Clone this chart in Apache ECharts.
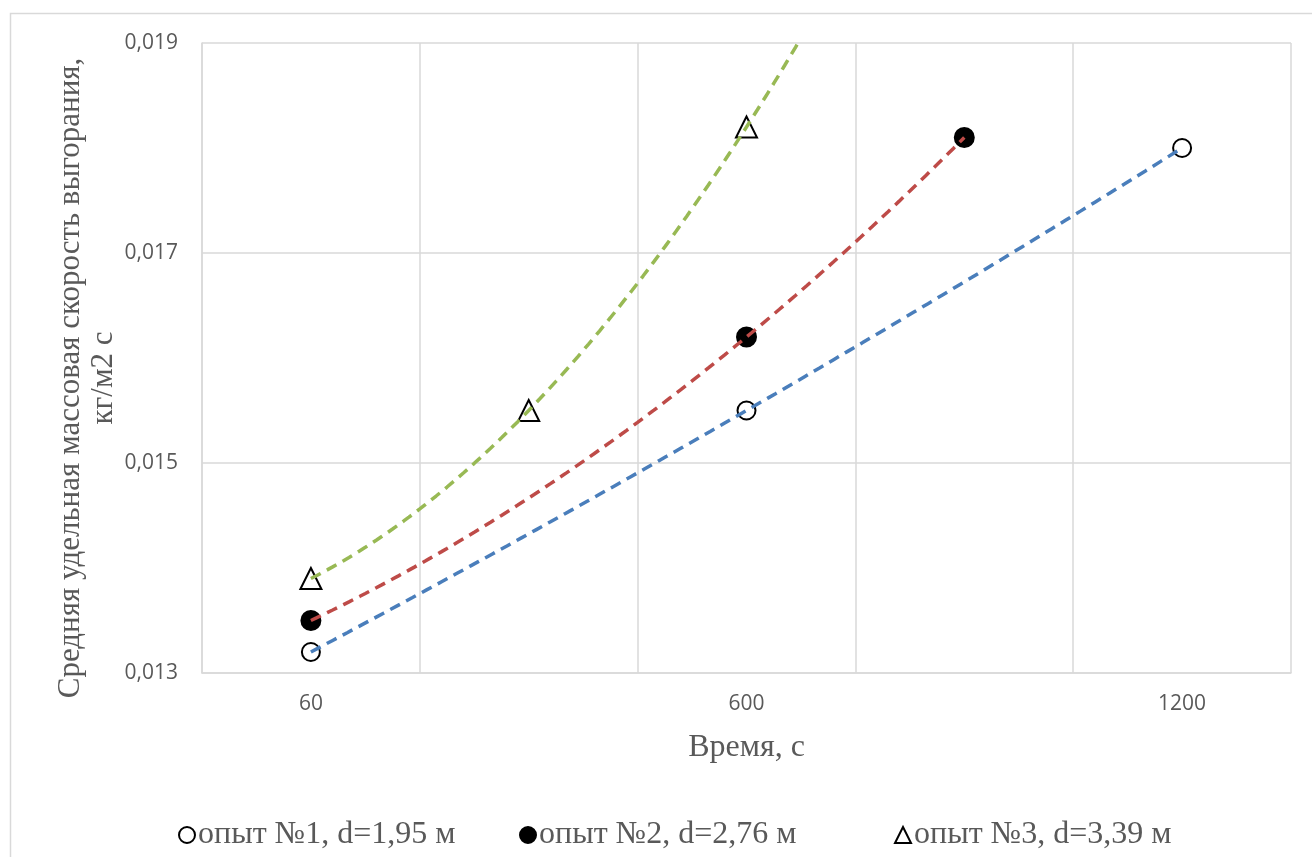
<!DOCTYPE html>
<html>
<head>
<meta charset="utf-8">
<script src="https://cdn.jsdelivr.net/npm/echarts@6/dist/echarts.min.js"></script>
<style>
  html, body { margin: 0; padding: 0; background: #fff; }
  #chart { width: 1312px; height: 857px; }
</style>
</head>
<body>
<div id="chart"></div>
<script>
// Time categories (s); only every other one carries a label
const categories = ['60', '300', '600', '900', '1200'];

// Mean specific mass burning rate, kg/(m2·s); null where no measurement
const run1 = [0.0132, null, 0.0155, null, 0.0180];
const run2 = [0.0135, null, 0.0162, 0.0181, null];
const run3 = [0.0139, 0.0155, 0.0182, null, null];

const seriesNames = ['опыт №1, d=1,95 м', 'опыт №2, d=2,76 м', 'опыт №3, d=3,39 м'];
const trendColors = ['#4a7ebb', '#be4b48', '#98b954'];
// periods the trend line is carried past the last measurement
const trendForward = [0, 0, 1];

// least-squares quadratic (order 2 polynomial trend line)
function quadFit(pts) {
  let s = [0, 0, 0, 0, 0], t = [0, 0, 0];
  pts.forEach(([x, y]) => {
    for (let k = 0; k < 5; k++) s[k] += Math.pow(x, k);
    for (let k = 0; k < 3; k++) t[k] += y * Math.pow(x, k);
  });
  const M = [[s[0], s[1], s[2], t[0]], [s[1], s[2], s[3], t[1]], [s[2], s[3], s[4], t[2]]];
  for (let i = 0; i < 3; i++) {
    for (let j = i + 1; j < 3; j++) {
      const f = M[j][i] / M[i][i];
      for (let k = i; k < 4; k++) M[j][k] -= f * M[i][k];
    }
  }
  const c = [0, 0, 0];
  for (let i = 2; i >= 0; i--) {
    let v = M[i][3];
    for (let k = i + 1; k < 3; k++) v -= M[i][k] * c[k];
    c[i] = v / M[i][i];
  }
  return x => c[0] + c[1] * x + c[2] * x * x;
}

function trendLine(values, forward) {
  const pts = [];
  values.forEach((v, i) => { if (v != null) pts.push([i + 1, v]); });
  const f = quadFit(pts);
  const x0 = pts[0][0], x1 = pts[pts.length - 1][0] + forward;
  const out = [];
  const n = 120;
  for (let i = 0; i <= n; i++) {
    const x = x0 + (x1 - x0) * i / n;
    out.push([x, f(x)]);
  }
  return out;
}

const runs = [run1, run2, run3];
const symbols = ['circle', 'circle', 'triangle'];
const fills = ['#ffffff', '#000000', '#ffffff'];
const sizes = [18, 19, 21];

const serifFont = '"Liberation Serif", "Times New Roman", serif';
const sansFont = '"Open Sans", "Noto Sans", sans-serif';

const series = [];
runs.forEach((vals, i) => {
  series.push({
    name: seriesNames[i],
    type: 'scatter',
    xAxisIndex: 0,
    data: vals,
    symbol: symbols[i],
    symbolSize: sizes[i],
    itemStyle: { color: fills[i], borderColor: '#000', borderWidth: 2, opacity: 1 },
    z: 2
  });
});
runs.forEach((vals, i) => {
  series.push({
    name: 'trend' + (i + 1),
    type: 'line',
    xAxisIndex: 1,
    data: trendLine(vals, trendForward[i]),
    showSymbol: false,
    symbol: 'none',
    clip: true,
    lineStyle: { color: trendColors[i], width: 3.5, type: [11, 7] },
    silent: true,
    z: 3
  });
});

// one legend block per run, laid out in fixed slots along the bottom
const legendLeft = [173, 514, 889];
const legends = seriesNames.map((name, i) => ({
  data: [name],
  left: legendLeft[i],
  top: 814,
  itemWidth: 16,
  itemHeight: 16,
  textStyle: { color: '#595959', fontSize: 32, fontFamily: serifFont, padding: [0, 0, 0, -2] }
}));

const chart = echarts.init(document.getElementById('chart'), null, { renderer: 'canvas' });
chart.setOption({
  animation: false,
  backgroundColor: '#ffffff',
  grid: { left: 202, right: 21, top: 43, bottom: 184, containLabel: false },
  xAxis: [{
    type: 'category',
    data: categories,
    boundaryGap: true,
    axisLine: { show: true, lineStyle: { color: '#d9d9d9', width: 1.5 } },
    axisTick: { show: false },
    axisLabel: { interval: 1, margin: 21, color: '#595959', fontSize: 21, fontFamily: sansFont },
    splitLine: { show: true, interval: 0, lineStyle: { color: '#d9d9d9', width: 1.5 } },
    name: 'Время, с',
    nameLocation: 'middle',
    nameGap: 59,
    nameTextStyle: { color: '#595959', fontSize: 32, fontFamily: serifFont }
  }, {
    type: 'value',
    min: 0.5,
    max: 5.5,
    show: false
  }],
  yAxis: {
    type: 'value',
    min: 0.013,
    max: 0.019,
    interval: 0.002,
    axisLine: { show: true, lineStyle: { color: '#d9d9d9', width: 1.5 } },
    axisTick: { show: false },
    axisLabel: {
      margin: 24, color: '#595959', fontSize: 21, fontFamily: sansFont,
      formatter: v => v.toFixed(3).replace('.', ',')
    },
    splitLine: { show: true, lineStyle: { color: '#d9d9d9', width: 1.5 } }
  },
  legend: legends,
  graphic: [{
    type: 'rect',
    shape: { x: 10.5, y: 13.5, width: 1330, height: 880 },
    style: { fill: null, stroke: '#d9d9d9', lineWidth: 1.5 },
    z: -1,
    silent: true
  }, {
    type: 'text',
    x: 87,
    y: 378,
    rotation: Math.PI / 2,
    style: {
      text: 'Средняя удельная массовая скорость выгорания,\nкг/м2 с',
      fill: '#595959',
      font: '31px ' + serifFont,
      align: 'center',
      verticalAlign: 'middle',
      lineHeight: 33
    },
    silent: true
  }],
  series: series
});
</script>
</body>
</html>
